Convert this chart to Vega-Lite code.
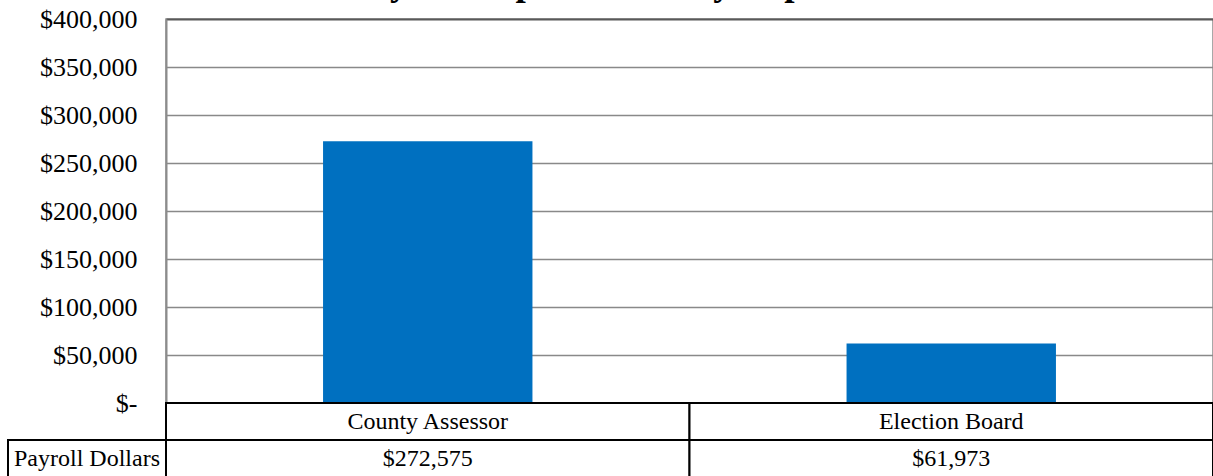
{
  "$schema": "https://vega.github.io/schema/vega-lite/v6.json",
  "padding": {"left": 7, "top": -35, "right": 0, "bottom": 0},
  "background": "white",
  "title": {
    "text": "Payroll Expenditures by Department",
    "font": "Liberation Serif",
    "fontSize": 37,
    "fontWeight": "bold",
    "color": "black",
    "anchor": "middle",
    "baseline": "alphabetic",
    "offset": -27,
    "dx": 30
  },
  "datasets": {
    "payroll": [
      {"department": "County Assessor", "payroll": 272575},
      {"department": "Election Board", "payroll": 61973}
    ],
    "header": [
      {"label": "Payroll Dollars"}
    ],
    "empty": []
  },
  "columns": 2,
  "spacing": 0,
  "bounds": "flush",
  "align": "each",
  "resolve": {"scale": {"x": "independent", "y": "independent"}},
  "concat": [
    {
      "width": 158,
      "height": 384,
      "data": {"name": "empty"},
      "mark": "text",
      "encoding": {}
    },
    {
      "width": 1047,
      "height": 384,
      "view": {"stroke": "#8c8c8c", "strokeWidth": 1.5},
      "data": {"name": "payroll"},
      "mark": {"type": "bar", "color": "#0070C0"},
      "encoding": {
        "x": {
          "field": "department",
          "type": "nominal",
          "sort": null,
          "scale": {"paddingInner": 0.6, "paddingOuter": 0.3},
          "axis": null
        },
        "y": {
          "field": "payroll",
          "type": "quantitative",
          "scale": {"domain": [0, 400000], "nice": false},
          "axis": {
            "title": null,
            "values": [0, 50000, 100000, 150000, 200000, 250000, 300000, 350000, 400000],
            "labelExpr": "datum.value === 0 ? '$-' : format(datum.value, '$,.0f')",
            "labelFont": "Liberation Serif",
            "labelFontSize": 26,
            "labelColor": "black",
            "labelPadding": 29,
            "ticks": false,
            "domainColor": "#8c8c8c",
            "domainWidth": 2,
            "grid": true,
            "gridColor": {"condition": {"test": "datum.value === 400000", "value": "#595959"}, "value": "#898989"},
            "gridWidth": {"condition": {"test": "datum.value === 400000", "value": 2}, "value": 1.5},
            "gridOpacity": 1
          }
        }
      }
    },
    {
      "width": 158,
      "height": 74,
      "view": {"stroke": null},
      "data": {"name": "header"},
      "layer": [
        {
          "mark": {"type": "rect", "fill": "white", "stroke": "black", "strokeWidth": 2},
          "encoding": {
            "y": {"datum": "value", "type": "nominal", "scale": {"domain": ["label", "value"], "paddingInner": 0, "paddingOuter": 0}, "axis": null}
          }
        },
        {
          "mark": {"type": "text", "font": "Liberation Serif", "fontSize": 24, "color": "black"},
          "encoding": {
            "y": {"datum": "value", "type": "nominal"},
            "text": {"field": "label", "type": "nominal"}
          }
        }
      ]
    },
    {
      "width": 1047,
      "height": 74,
      "view": {"stroke": null},
      "data": {"name": "payroll"},
      "encoding": {
        "x": {
          "field": "department",
          "type": "nominal",
          "sort": null,
          "scale": {"paddingInner": 0, "paddingOuter": 0},
          "axis": null
        }
      },
      "layer": [
        {
          "mark": {"type": "rect", "fill": "white", "stroke": "black", "strokeWidth": 2},
          "encoding": {
            "y": {"datum": "label", "type": "nominal", "scale": {"domain": ["label", "value"], "paddingInner": 0, "paddingOuter": 0}, "axis": null}
          }
        },
        {
          "mark": {"type": "rect", "fill": "white", "stroke": "black", "strokeWidth": 2},
          "encoding": {
            "y": {"datum": "value", "type": "nominal"}
          }
        },
        {
          "mark": {"type": "text", "font": "Liberation Serif", "fontSize": 24, "color": "black"},
          "encoding": {
            "y": {"datum": "label", "type": "nominal"},
            "text": {"field": "department", "type": "nominal"}
          }
        },
        {
          "mark": {"type": "text", "font": "Liberation Serif", "fontSize": 24, "color": "black"},
          "encoding": {
            "y": {"datum": "value", "type": "nominal"},
            "text": {"field": "payroll", "type": "quantitative", "format": "$,.0f"}
          }
        }
      ]
    }
  ],
  "config": {
    "view": {"stroke": null}
  }
}
